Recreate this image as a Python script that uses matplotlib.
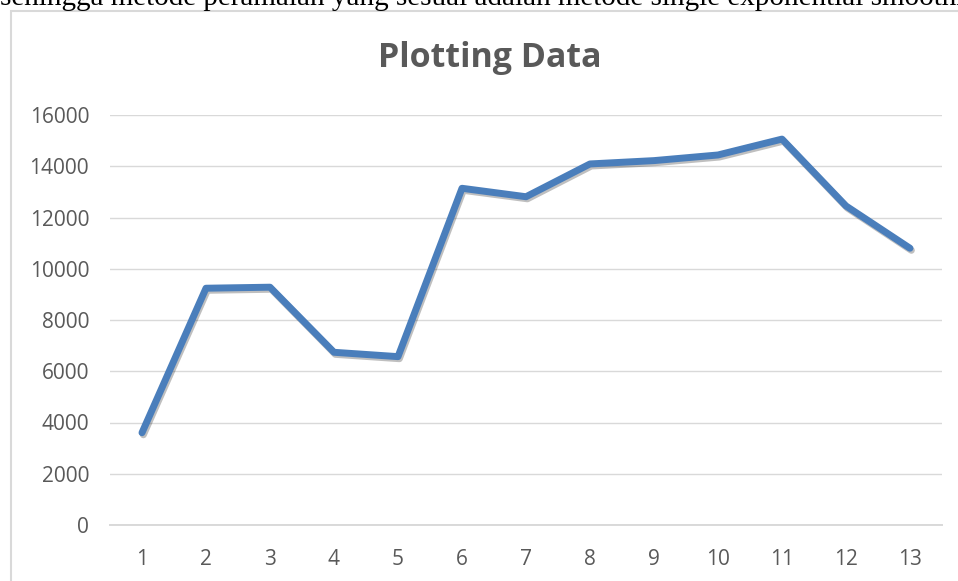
import matplotlib.pyplot as plt
import matplotlib.patheffects as pe
from matplotlib.patches import Rectangle

# data
periode = [1, 2, 3, 4, 5, 6, 7, 8, 9, 10, 11, 12, 13]
nilai = [3600, 9240, 9280, 6740, 6570, 13140, 12810, 14090, 14220, 14440, 15060, 12450, 10800]
y_ticks = [0, 2000, 4000, 6000, 8000, 10000, 12000, 14000, 16000]

plt.rcParams['font.family'] = ['Open Sans', 'DejaVu Sans']
abu = '#595959'
garis = '#d9d9d9'

fig = plt.figure(figsize=(9.58, 5.81), dpi=100)
ax = fig.add_axes([110 / 958, 1 - 525 / 581, 832 / 958, 410 / 581])

# potongan teks dokumen di atas grafik (terpotong seperti aslinya)
fig.text(0.0, 1 - 5 / 581,
         'sehingga metode peramalan yang sesuai adalah metode single exponential smoothing',
         family='Liberation Serif', fontsize=21, color='black', va='baseline', ha='left')

# bingkai grafik
fig.patches.append(Rectangle((11 / 958, -0.05), 1.2, 1 - 11 / 581 + 0.05,
                             transform=fig.transFigure, fill=False,
                             edgecolor=garis, lw=1.5))

ax.plot(periode, nilai, color='#4a7ebb', lw=5,
        solid_capstyle='round', solid_joinstyle='round',
        path_effects=[pe.SimpleLineShadow(offset=(1, -1.5), alpha=0.25),
                      pe.Normal()])

ax.set_xlim(0.5, 13.5)
ax.set_ylim(0, 16000)
ax.set_xticks(periode)
ax.set_yticks(y_ticks)
ax.grid(axis='y', color=garis, lw=1)
ax.set_axisbelow(True)
for s in ['top', 'right', 'left']:
    ax.spines[s].set_visible(False)
ax.spines['bottom'].set_color(garis)
ax.spines['bottom'].set_linewidth(1.4)
ax.tick_params(length=0, labelsize=15, labelcolor=abu)
ax.tick_params(axis='y', pad=15)
ax.tick_params(axis='x', pad=17)

fig.text(490 / 958, 1 - 67 / 581, 'Plotting Data', fontsize=24.5, fontweight='bold',
         color=abu, ha='center', va='baseline')

fig.savefig('out.png', dpi=100)
